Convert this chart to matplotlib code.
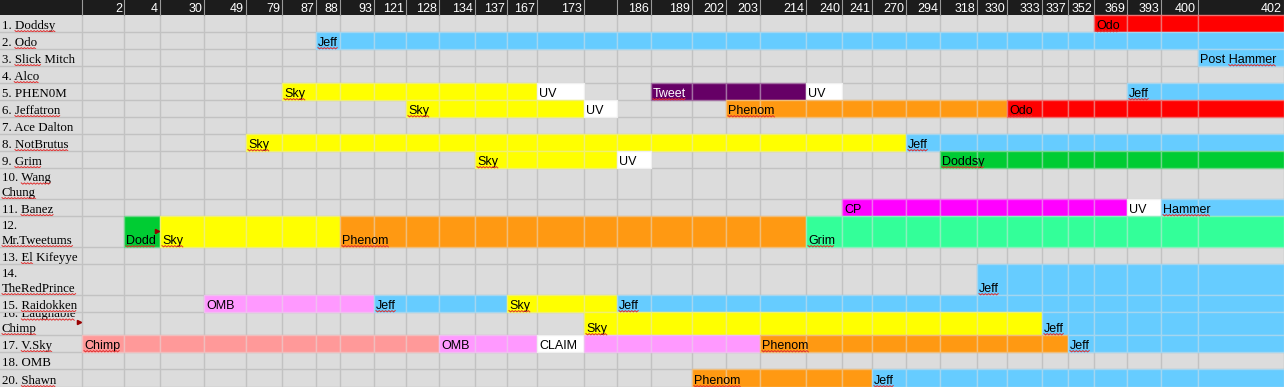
import numpy as np
import matplotlib
matplotlib.use("Agg")
from matplotlib import pyplot as plt
from matplotlib.patches import Rectangle
from matplotlib.font_manager import FontProperties

# Заголовки столбцов (номера постов), один столбец пустой
columns = ['2', '4', '30', '49', '79', '87', '88', '93', '121', '128', '134', '137', '167',
           '173', '', '186', '189', '202', '203', '214', '240', '241', '270', '294', '318',
           '330', '333', '337', '352', '369', '393', '400', '402']

players = ['1. Doddsy', '2. Odo', '3. Slick Mitch', '4. Alco', '5. PHEN0M', '6. Jeffatron',
           '7. Ace Dalton', '8. NotBrutus', '9. Grim', '10. Wang\nChung', '11. Banez',
           '12.\nMr.Tweetums', '13. El Kifeyye', '14.\nTheRedPrince', '15. Raidokken',
           '16. Laughable\nChimp', '17. V.Sky', '18. OMB', '20. Shawn']

# (строка, первый столбец, последний столбец, текст, цвет)
claims = [
    (0, 29, 32, 'Odo', 'red'),
    (1, 6, 32, 'Jeff', 'blue'),
    (2, 32, 32, 'Post Hammer', 'blue'),
    (4, 5, 12, 'Sky', 'yellow'),
    (4, 13, 13, 'UV', 'white'),
    (4, 16, 19, 'Tweet', 'purple'),
    (4, 20, 20, 'UV', 'white'),
    (4, 30, 32, 'Jeff', 'blue'),
    (5, 9, 13, 'Sky', 'yellow'),
    (5, 14, 14, 'UV', 'white'),
    (5, 18, 25, 'Phenom', 'orange'),
    (5, 26, 32, 'Odo', 'red'),
    (7, 4, 22, 'Sky', 'yellow'),
    (7, 23, 32, 'Jeff', 'blue'),
    (8, 11, 14, 'Sky', 'yellow'),
    (8, 15, 15, 'UV', 'white'),
    (8, 24, 32, 'Doddsy', 'green'),
    (10, 21, 29, 'CP', 'magenta'),
    (10, 30, 30, 'UV', 'white'),
    (10, 31, 32, 'Hammer', 'blue'),
    (11, 1, 1, 'Dodd', 'green'),
    (11, 2, 6, 'Sky', 'yellow'),
    (11, 7, 19, 'Phenom', 'orange'),
    (11, 20, 32, 'Grim', 'mint'),
    (13, 25, 32, 'Jeff', 'blue'),
    (14, 3, 7, 'OMB', 'pink'),
    (14, 8, 11, 'Jeff', 'blue'),
    (14, 12, 14, 'Sky', 'yellow'),
    (14, 15, 32, 'Jeff', 'blue'),
    (15, 14, 26, 'Sky', 'yellow'),
    (15, 27, 32, 'Jeff', 'blue'),
    (16, 0, 9, 'Chimp', 'salmon'),
    (16, 10, 12, 'OMB', 'pink'),
    (16, 13, 13, 'CLAIM', 'white'),
    (16, 14, 18, '', 'pink'),
    (16, 19, 27, 'Phenom', 'orange'),
    (16, 28, 32, 'Jeff', 'blue'),
    (18, 17, 21, 'Phenom', 'orange'),
    (18, 22, 32, 'Jeff', 'blue'),
]

palette = {'red': '#ff0000', 'blue': '#66ccff', 'yellow': '#ffff00', 'white': '#ffffff',
           'purple': '#660066', 'orange': '#ff9912', 'green': '#00cc33', 'magenta': '#ff00ff',
           'mint': '#33ff99', 'pink': '#ff99ff', 'salmon': '#ff9999'}

# слова, подчёркнутые проверкой орфографии
misspelled = ['Doddsy', 'Odo', 'Slick', 'Mitch', 'Alco', 'Jeffatron', 'NotBrutus', 'Grim',
              'Wang', 'Chung', 'Banez', 'Mr.Tweetums', 'El', 'Kifeyye', 'TheRedPrince',
              'Raidokken', 'Laughable', 'Chimp', 'V.Sky', 'Shawn', 'Jeff', 'Sky', 'Phenom',
              'Tweet', 'Dodd', 'Hammer']

# геометрия листа в пикселях
label_w = 82
col_w = [42, 36, 44, 42, 36, 34, 24, 34, 32, 33, 36, 32, 30, 47, 33, 34, 41, 34, 34, 46,
         36, 30, 34, 34, 37, 30, 35, 26, 26, 33, 34, 37, 86]
head_h = 15
row_h = [17, 17, 17, 17, 17, 17, 17, 17, 17, 31, 17, 31, 17, 31, 17, 23, 17, 17, 18]

x_edges = label_w + np.concatenate([[0], np.cumsum(col_w)])
y_edges = head_h + np.concatenate([[0], np.cumsum(row_h)])
W, H = x_edges[-1], y_edges[-1]

fig = plt.figure(figsize=(12.84, 3.87), dpi=100)
ax = fig.add_axes([0, 0, 1, 1])
ax.set_xlim(0, W)
ax.set_ylim(H, 0)
ax.axis('off')

sans = FontProperties(family='Liberation Sans', size=9)
serif = FontProperties(family='Liberation Serif', size=9.3)
renderer = fig.canvas.get_renderer()


def text_w(s, fp):
    if not s:
        return 0
    return renderer.get_text_width_height_descent(s, fp, ismath=False)[0]


def squiggle(x0, x1, y, clip=None):
    xs = np.arange(x0, x1 + 0.1, 1.6)
    ys = y + (np.arange(len(xs)) % 2) * 1.3
    ln, = ax.plot(xs, ys, color='#e03030', lw=0.7, zorder=6)
    if clip is not None:
        ln.set_clip_path(clip)


def put_text(x, y, s, fp, color='black', clip=None):
    if not s:
        return
    t = ax.text(x, y, s, fontproperties=fp, color=color, ha='left', va='baseline', zorder=5)
    if clip is not None:
        t.set_clip_on(True)
        t.set_clip_path(clip)
    for word in misspelled:
        i = s.find(word)
        if i < 0:
            continue
        end = i + len(word)
        if end < len(s) and s[end].isalnum():
            continue
        if i > 0 and s[i - 1].isalnum():
            continue
        w = text_w(word, fp)
        x0 = x + text_w(s[:end], fp) - w
        squiggle(x0, x0 + w, y + 1.6, clip)
        break


# фон
ax.add_patch(Rectangle((0, head_h), W, H - head_h, facecolor='#dcdcdc', edgecolor='none', zorder=0))
ax.add_patch(Rectangle((0, 0), W, head_h, facecolor='#1c1c1c', edgecolor='none', zorder=0))

# сетка
for x in x_edges:
    ax.plot([x, x], [head_h, H], color='#c2c2c2', lw=1.0, zorder=1)
for y in y_edges[1:]:
    ax.plot([0, W], [y, y], color='#c2c2c2', lw=1.0, zorder=1)
for x in x_edges:
    ax.plot([x, x], [0, head_h], color='#9a9a9a', lw=0.8, zorder=1)

# заголовки
for j, c in enumerate(columns):
    ax.text(x_edges[j + 1] - 2, head_h - 3, c, fontproperties=sans, color='white',
            ha='right', va='baseline', zorder=5)


def lighten(hexc, k=0.5):
    rgb = np.array(matplotlib.colors.to_rgb(hexc))
    return tuple(rgb * (1 - k) + np.array([0.88, 0.88, 0.88]) * k)


# закрашенные ячейки
for r, c0, c1, name, key in claims:
    col = palette[key]
    for j in range(c0, c1 + 1):
        ax.add_patch(Rectangle((x_edges[j], y_edges[r]), x_edges[j + 1] - x_edges[j],
                               y_edges[r + 1] - y_edges[r], facecolor=col,
                               edgecolor=lighten(col), lw=1.0, zorder=2))
    tc = 'white' if key == 'purple' else 'black'
    put_text(x_edges[c0] + 2, y_edges[r + 1] - 3, name, sans, color=tc)

# имена игроков
for r, p in enumerate(players):
    clip = Rectangle((0, y_edges[r] + 0.5), label_w, y_edges[r + 1] - y_edges[r] - 0.5,
                     transform=ax.transData)
    lines = p.split('\n')
    for k, line in enumerate(lines):
        y = y_edges[r + 1] - 3 - (len(lines) - 1 - k) * 14.7
        put_text(2, y, line, serif, clip=clip)

# маркеры примечаний
ax.plot([label_w - 3], [y_edges[15] + 10], marker='>', ms=3, color='#990000', zorder=7)
ax.plot([x_edges[2] - 3], [y_edges[11] + 15], marker='>', ms=3, color='#990000', zorder=7)

fig.savefig('out.png', dpi=100)
